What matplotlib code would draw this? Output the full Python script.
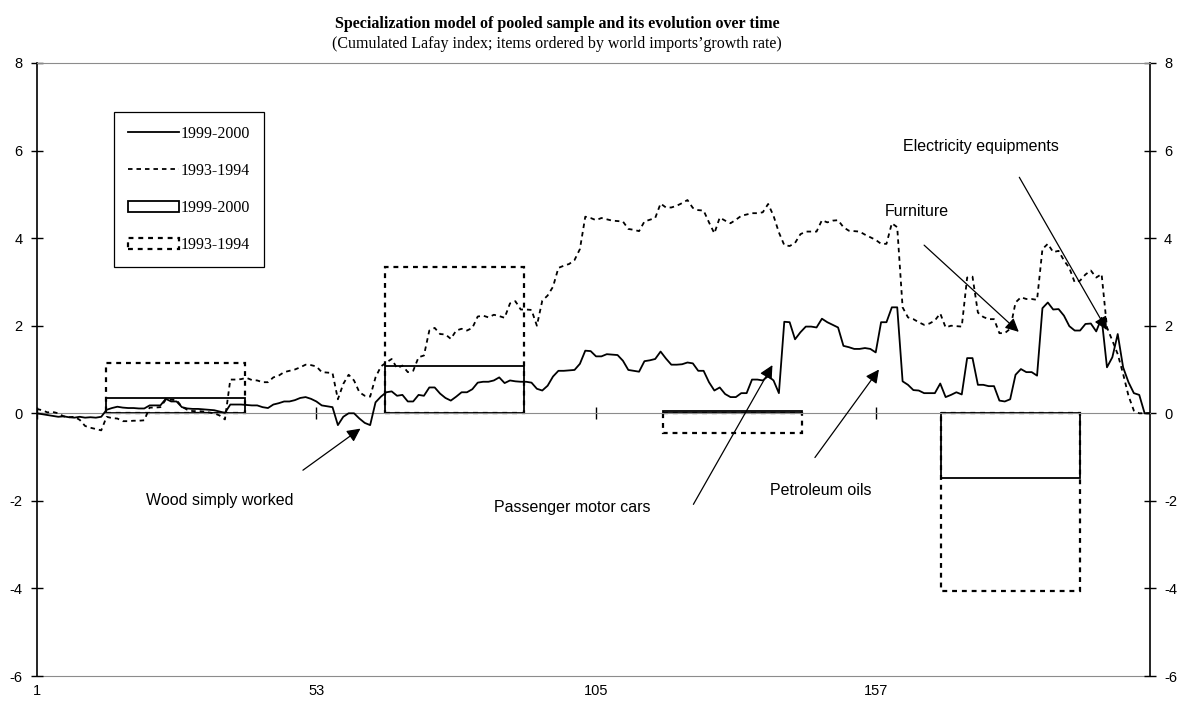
import matplotlib
matplotlib.use("Agg")
import matplotlib.pyplot as plt
from matplotlib.lines import Line2D
from matplotlib.patches import Patch
import numpy as np

plt.rcParams["axes.unicode_minus"] = False

# cumulated Lafay index, items 1..208 ordered by world imports' growth rate
lafay_1999 = [
    0.00, -0.02, -0.04, -0.06, -0.08, -0.07, -0.09, -0.10, -0.08, -0.10,
    -0.09, -0.10, -0.08, 0.08, 0.12, 0.15, 0.13, 0.12, 0.12, 0.11,
    0.11, 0.18, 0.18, 0.18, 0.33, 0.27, 0.27, 0.14, 0.11, 0.10,
    0.10, 0.09, 0.08, 0.07, 0.04, 0.01, 0.20, 0.20, 0.20, 0.19,
    0.18, 0.18, 0.14, 0.12, 0.20, 0.23, 0.27, 0.27, 0.30, 0.35,
    0.37, 0.33, 0.27, 0.18, 0.16, 0.14, -0.27, -0.08, 0.00, 0.00,
    -0.12, -0.22, -0.27, 0.25, 0.38, 0.48, 0.50, 0.40, 0.42, 0.27,
    0.27, 0.42, 0.40, 0.59, 0.59, 0.45, 0.35, 0.29, 0.38, 0.48,
    0.48, 0.55, 0.70, 0.72, 0.72, 0.75, 0.82, 0.69, 0.75, 0.73,
    0.72, 0.72, 0.70, 0.56, 0.52, 0.63, 0.84, 0.97, 0.97, 0.98,
    0.99, 1.13, 1.43, 1.42, 1.30, 1.30, 1.35, 1.34, 1.33, 1.20,
    0.99, 0.97, 0.95, 1.19, 1.21, 1.24, 1.41, 1.25, 1.11, 1.11,
    1.12, 1.16, 1.14, 0.97, 0.97, 0.71, 0.52, 0.59, 0.44, 0.37,
    0.37, 0.46, 0.46, 0.77, 0.77, 0.75, 0.85, 0.75, 0.46, 2.09,
    2.08, 1.69, 1.85, 1.98, 1.98, 1.96, 2.16, 2.08, 2.02, 1.96,
    1.54, 1.51, 1.47, 1.47, 1.49, 1.47, 1.39, 2.08, 2.08, 2.42,
    2.42, 0.73, 0.65, 0.53, 0.52, 0.46, 0.46, 0.46, 0.68, 0.37,
    0.42, 0.48, 0.43, 1.26, 1.26, 0.65, 0.65, 0.62, 0.62, 0.29,
    0.27, 0.32, 0.88, 1.01, 0.94, 0.94, 0.86, 2.40, 2.53, 2.37,
    2.38, 2.23, 1.99, 1.89, 1.89, 2.04, 2.05, 1.87, 2.18, 1.05,
    1.28, 1.81, 1.05, 0.71, 0.46, 0.42, 0.00, 0.00,
]
lafay_1993 = [
    0.10, 0.07, 0.02, 0.03, 0.00, -0.07, -0.09, -0.08, -0.15, -0.29,
    -0.33, -0.36, -0.39, -0.08, -0.11, -0.12, -0.18, -0.18, -0.17, -0.17,
    -0.16, 0.13, 0.13, 0.14, 0.31, 0.31, 0.30, 0.15, 0.08, 0.05,
    0.05, 0.04, 0.02, 0.00, -0.05, -0.14, 0.77, 0.77, 0.78, 0.81,
    0.76, 0.75, 0.71, 0.71, 0.82, 0.86, 0.94, 0.97, 1.00, 1.05,
    1.11, 1.10, 1.07, 0.94, 0.93, 0.92, 0.32, 0.67, 0.88, 0.75,
    0.48, 0.40, 0.38, 0.82, 1.07, 1.16, 1.24, 1.03, 1.09, 0.94,
    0.97, 1.28, 1.32, 1.89, 1.95, 1.81, 1.80, 1.70, 1.89, 1.93,
    1.89, 1.95, 2.21, 2.23, 2.19, 2.25, 2.22, 2.18, 2.51, 2.56,
    2.37, 2.37, 2.36, 2.00, 2.57, 2.69, 2.89, 3.32, 3.37, 3.41,
    3.50, 3.75, 4.49, 4.46, 4.41, 4.46, 4.43, 4.40, 4.39, 4.38,
    4.21, 4.19, 4.16, 4.38, 4.42, 4.46, 4.79, 4.70, 4.70, 4.74,
    4.80, 4.87, 4.69, 4.64, 4.63, 4.36, 4.11, 4.47, 4.40, 4.34,
    4.42, 4.51, 4.54, 4.57, 4.57, 4.59, 4.78, 4.51, 4.13, 3.84,
    3.82, 3.89, 4.09, 4.15, 4.15, 4.15, 4.41, 4.36, 4.40, 4.41,
    4.25, 4.17, 4.16, 4.15, 4.08, 4.02, 3.96, 3.87, 3.87, 4.34,
    4.25, 2.42, 2.19, 2.15, 2.08, 2.02, 2.05, 2.12, 2.28, 1.96,
    2.00, 1.99, 1.98, 3.10, 3.12, 2.30, 2.20, 2.15, 2.15, 1.83,
    1.83, 1.93, 2.53, 2.65, 2.61, 2.61, 2.59, 3.75, 3.87, 3.68,
    3.71, 3.49, 3.32, 2.99, 3.03, 3.17, 3.26, 3.10, 3.18, 1.96,
    1.66, 1.35, 0.90, 0.40, 0.06, 0.00, 0.00, 0.00,
]

# quartile totals (bars)
groups_1999 = [0.36, 1.09, 0.05, -1.47]
groups_1993 = [1.14, 3.35, -0.44, -4.05]

y_ticks = [-6, -4, -2, 0, 2, 4, 6, 8]
x_ticks = [1, 53, 105, 157]

# annotations: label, text position, arrow tail, arrow tip (data units)
notes = [
    ("Wood simply worked", (35.0, -2.0), (50.5, -1.30), (61.2, -0.35)),
    ("Passenger motor cars", (100.6, -2.15), (123.1, -2.08), (137.8, 1.10)),
    ("Petroleum oils", (146.8, -1.76), (145.7, -1.01), (157.6, 1.00)),
    ("Furniture", (164.7, 4.61), (166.0, 3.84), (183.6, 1.86)),
    ("Electricity equipments", (176.5, 6.10), (183.7, 5.39), (200.0, 1.90)),
]

W, H = 1179, 706
fig = plt.figure(figsize=(W / 100, H / 100), dpi=100)
ax = fig.add_axes([36.7 / W, 1 - 676 / H, (1150 - 36.7) / W, (676 - 63) / H])

n = len(lafay_1999)
items = np.arange(1, n + 1)

# bars: 4 groups spread over the item axis, half a group wide
span = n - 1
centers = [1 + span * (k + 0.5) / 4 for k in range(4)]
ax.bar(centers, groups_1999, width=span / 8, fill=False, edgecolor="black",
       linewidth=1.3, zorder=2)
ax.bar(centers, groups_1993, width=span / 8, fill=False, edgecolor="black",
       linewidth=1.6, linestyle=(0, (2.2, 2.2)), zorder=2)

ax.plot(items, lafay_1999, color="black", linewidth=1.3, zorder=3)
ax.plot(items, lafay_1993, color="black", linewidth=1.3,
        linestyle=(0, (2.5, 2.2)), zorder=3)

ax.set_xlim(1, n)
ax.set_ylim(-6, 8)

# y axis left + mirrored right
ax.set_yticks(y_ticks)
ax.tick_params(axis="y", direction="inout", length=8, width=1, pad=6,
               labelsize=10.5, right=True, labelright=True)
for lab in ax.get_yticklabels():
    lab.set_fontfamily("Liberation Sans")
ax.spines["left"].set_linewidth(1.2)
ax.spines["right"].set_linewidth(1.2)
ax.spines["top"].set_color("#8c8c8c")

# category axis crossing at zero, labels at the bottom
ax.spines["bottom"].set_position(("data", 0))
ax.spines["bottom"].set_color("#8c8c8c")
ax.set_xticks(x_ticks)
ax.tick_params(axis="x", direction="inout", length=8, width=1,
               labelbottom=False)
sec = ax.secondary_xaxis("bottom")
sec.set_xticks(x_ticks)
sec.tick_params(length=0, pad=6)
sec.spines["bottom"].set_color("#8c8c8c")
for lab in sec.get_xticklabels():
    lab.set_fontfamily("Liberation Sans")
    lab.set_fontsize(10.5)

for label, txt, tail, tip in notes:
    ax.text(txt[0], txt[1], label, ha="center", va="center",
            family="Liberation Sans", fontsize=11.5)
    ax.annotate("", xy=tip, xytext=tail,
                arrowprops=dict(arrowstyle="-|>", color="black", lw=0.9,
                                mutation_scale=20, shrinkA=0, shrinkB=0))

handles = [
    Line2D([], [], color="black", lw=1.3),
    Line2D([], [], color="black", lw=1.3, linestyle=(0, (2.5, 2.2))),
    Patch(facecolor="none", edgecolor="black", lw=1.3),
    Patch(facecolor="none", edgecolor="black", lw=1.6, linestyle=(0, (2.2, 2.2))),
]
labels = ["1999-2000", "1993-1994", "1999-2000", "1993-1994"]
leg = ax.legend(handles, labels, loc="upper left",
                bbox_to_anchor=(114 / W, 1 - 112 / H),
                bbox_transform=fig.transFigure, borderaxespad=0,
                prop=dict(family="Liberation Serif", size=11.5),
                handlelength=3.2, handletextpad=0.15, labelspacing=1.33,
                borderpad=0.85, fancybox=False, framealpha=1)
leg.get_frame().set_edgecolor("black")
leg.get_frame().set_linewidth(0.9)

fig.text(557 / W, 1 - 24 / H,
         "Specialization model of pooled sample and its evolution over time",
         ha="center", va="center", family="Liberation Serif",
         fontweight="bold", fontsize=11.5)
fig.text(557 / W, 1 - 44 / H,
         "(Cumulated Lafay index; items ordered by world imports\u2019growth rate)",
         ha="center", va="center", family="Liberation Serif", fontsize=11.5)

fig.savefig("out.png", dpi=100)
